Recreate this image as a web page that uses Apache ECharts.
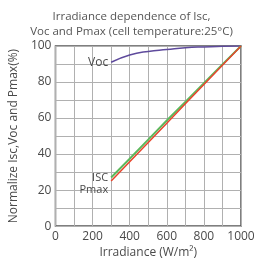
<!DOCTYPE html>
<html>
<head>
<meta charset="utf-8">
<script src="https://cdn.jsdelivr.net/npm/echarts@6/dist/echarts.min.js"></script>
<style>
  html, body { margin: 0; padding: 0; background: #fff; }
  #chart { width: 263px; height: 264px; }
</style>
</head>
<body>
<div id="chart"></div>
<script>
// irradiance (W/m2) and normalized values (%)
const irradiance = [300, 400, 500, 600, 700, 800, 900, 1000];
const vocValues = [91, 95, 97, 98, 99, 99.5, 99.8, 100];
const iscValues = [27, 37.4, 48, 58.6, 69, 79.4, 89.8, 100];
const pmaxValues = [25, 35.7, 46.4, 57.1, 67.9, 78.6, 89.3, 100];

const xTicks = [0, 200, 400, 600, 800, 1000];
const yTicks = [0, 20, 40, 60, 80, 100];

const toPairs = (ys) => irradiance.map((x, i) => [x, ys[i]]);

const chart = echarts.init(document.getElementById('chart'));

const gridLine = { show: true, lineStyle: { color: '#b0b0b0', width: 1 } };
const labelStyle = { color: '#4a4a4a', fontSize: 12, fontFamily: 'Open Sans' };

chart.setOption({
  animation: false,
  title: {
    text: 'Irradiance dependence of Isc,\nVoc and Pmax (cell temperature:25°C)',
    left: 'center',
    top: 4,
    textStyle: { color: '#555', fontSize: 11.5, fontWeight: 'normal', fontFamily: 'Open Sans', lineHeight: 15 }
  },
  grid: {
    left: 53, right: 22, top: 46, bottom: 28,
    show: true, borderColor: '#555', borderWidth: 1.5
  },
  xAxis: {
    type: 'value',
    min: xTicks[0], max: xTicks[xTicks.length - 1], interval: 200,
    name: 'Irradiance (W/m²)',
    nameLocation: 'middle', nameGap: 12,
    nameTextStyle: labelStyle,
    axisLine: { show: false },
    axisTick: { show: false },
    axisLabel: Object.assign({ margin: 4, formatter: (v) => String(v) }, labelStyle),
    splitLine: gridLine,
    minorTick: { show: false, splitNumber: 2 },
    minorSplitLine: gridLine
  },
  yAxis: {
    type: 'value',
    min: yTicks[0], max: yTicks[yTicks.length - 1], interval: 20,
    name: 'Normalize Isc,Voc and Pmax(%)',
    nameLocation: 'middle', nameGap: 30,
    nameTextStyle: labelStyle,
    axisLine: { show: false },
    axisTick: { show: false },
    axisLabel: Object.assign({ margin: 4, formatter: (v) => String(v) }, labelStyle),
    splitLine: gridLine,
    minorTick: { show: false, splitNumber: 2 },
    minorSplitLine: gridLine
  },
  series: [
    {
      name: 'Voc', type: 'line', data: toPairs(vocValues), smooth: true,
      symbol: 'none', lineStyle: { color: '#5e4a9c', width: 1.5 },
      markPoint: {
        symbol: 'circle', symbolSize: 0,
        data: [{ coord: [irradiance[0], vocValues[0]], value: 'Voc' }],
        label: { show: true, position: 'left', distance: 3, formatter: 'Voc', color: '#4a4a4a', fontSize: 12, fontFamily: 'Open Sans' }
      }
    },
    {
      name: 'ISC', type: 'line', data: toPairs(iscValues),
      symbol: 'none', lineStyle: { color: '#5cb85c', width: 2 },
      markPoint: {
        symbol: 'circle', symbolSize: 0,
        data: [{ coord: [irradiance[0], iscValues[0]], value: 'ISC' }],
        label: { show: true, position: 'left', distance: 3, formatter: 'ISC', color: '#4a4a4a', fontSize: 11, fontFamily: 'Open Sans' }
      }
    },
    {
      name: 'Pmax', type: 'line', data: toPairs(pmaxValues),
      symbol: 'none', lineStyle: { color: '#e8452c', width: 1.5 },
      markPoint: {
        symbol: 'circle', symbolSize: 0,
        data: [{ coord: [irradiance[0], pmaxValues[0]], value: 'Pmax' }],
        label: { show: true, position: 'left', distance: 3, offset: [0, 9], formatter: 'Pmax', color: '#4a4a4a', fontSize: 11, fontFamily: 'Open Sans' }
      }
    }
  ]
});
</script>
</body>
</html>
